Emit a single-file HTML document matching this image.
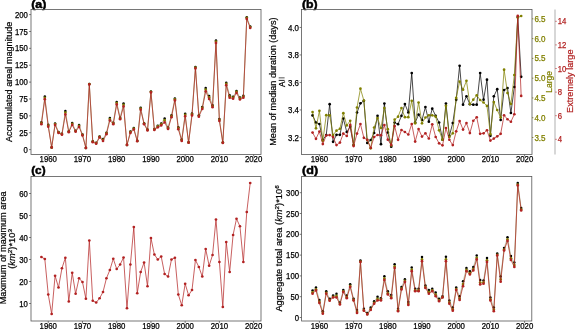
<!DOCTYPE html>
<html><head><meta charset="utf-8"><style>
html,body{margin:0;padding:0;background:#fff;width:575px;height:329px;overflow:hidden}
</style></head><body>
<svg width="575" height="329" viewBox="0 0 575 329" style="display:block;will-change:transform">
<rect width="575" height="329" fill="#fff"/>
<g font-family='"Liberation Sans", sans-serif'>
<text x="31.2" y="7.6" font-size="10.4" text-anchor="start" fill="#000" font-weight="bold" textLength="15.2" lengthAdjust="spacingAndGlyphs" style="stroke:#000;stroke-width:0.45px">(a)</text>
<text x="302.0" y="7.6" font-size="10.4" text-anchor="start" fill="#000" font-weight="bold" textLength="15.7" lengthAdjust="spacingAndGlyphs" style="stroke:#000;stroke-width:0.45px">(b)</text>
<text x="31.2" y="174.3" font-size="10.4" text-anchor="start" fill="#000" font-weight="bold" textLength="14.4" lengthAdjust="spacingAndGlyphs" style="stroke:#000;stroke-width:0.45px">(c)</text>
<text x="302.0" y="174.3" font-size="10.4" text-anchor="start" fill="#000" font-weight="bold" textLength="16.1" lengthAdjust="spacingAndGlyphs" style="stroke:#000;stroke-width:0.45px">(d)</text>
<line x1="29.10" y1="149.60" x2="31.0" y2="149.60" stroke="#555" stroke-width="0.8"/>
<text x="27.8" y="152.70" font-size="8.4" text-anchor="end" fill="#000" textLength="4.30" lengthAdjust="spacingAndGlyphs" style="stroke:#000;stroke-width:0.25px">0</text>
<line x1="29.10" y1="132.72" x2="31.0" y2="132.72" stroke="#555" stroke-width="0.8"/>
<text x="27.8" y="135.82" font-size="8.4" text-anchor="end" fill="#000" textLength="8.60" lengthAdjust="spacingAndGlyphs" style="stroke:#000;stroke-width:0.25px">25</text>
<line x1="29.10" y1="115.85" x2="31.0" y2="115.85" stroke="#555" stroke-width="0.8"/>
<text x="27.8" y="118.95" font-size="8.4" text-anchor="end" fill="#000" textLength="8.60" lengthAdjust="spacingAndGlyphs" style="stroke:#000;stroke-width:0.25px">50</text>
<line x1="29.10" y1="98.97" x2="31.0" y2="98.97" stroke="#555" stroke-width="0.8"/>
<text x="27.8" y="102.07" font-size="8.4" text-anchor="end" fill="#000" textLength="8.60" lengthAdjust="spacingAndGlyphs" style="stroke:#000;stroke-width:0.25px">75</text>
<line x1="29.10" y1="82.10" x2="31.0" y2="82.10" stroke="#555" stroke-width="0.8"/>
<text x="27.8" y="85.20" font-size="8.4" text-anchor="end" fill="#000" textLength="12.90" lengthAdjust="spacingAndGlyphs" style="stroke:#000;stroke-width:0.25px">100</text>
<line x1="29.10" y1="65.22" x2="31.0" y2="65.22" stroke="#555" stroke-width="0.8"/>
<text x="27.8" y="68.32" font-size="8.4" text-anchor="end" fill="#000" textLength="12.90" lengthAdjust="spacingAndGlyphs" style="stroke:#000;stroke-width:0.25px">125</text>
<line x1="29.10" y1="48.35" x2="31.0" y2="48.35" stroke="#555" stroke-width="0.8"/>
<text x="27.8" y="51.45" font-size="8.4" text-anchor="end" fill="#000" textLength="12.90" lengthAdjust="spacingAndGlyphs" style="stroke:#000;stroke-width:0.25px">150</text>
<line x1="29.10" y1="31.47" x2="31.0" y2="31.47" stroke="#555" stroke-width="0.8"/>
<text x="27.8" y="34.57" font-size="8.4" text-anchor="end" fill="#000" textLength="12.90" lengthAdjust="spacingAndGlyphs" style="stroke:#000;stroke-width:0.25px">175</text>
<line x1="29.10" y1="14.60" x2="31.0" y2="14.60" stroke="#555" stroke-width="0.8"/>
<text x="27.8" y="17.70" font-size="8.4" text-anchor="end" fill="#000" textLength="12.90" lengthAdjust="spacingAndGlyphs" style="stroke:#000;stroke-width:0.25px">200</text>
<line x1="48.25" y1="154.5" x2="48.25" y2="156.40" stroke="#555" stroke-width="0.8"/>
<text x="48.25" y="162.2" font-size="8.4" text-anchor="middle" fill="#000" textLength="17.4" lengthAdjust="spacingAndGlyphs" style="stroke:#000;stroke-width:0.25px">1960</text>
<line x1="82.48" y1="154.5" x2="82.48" y2="156.40" stroke="#555" stroke-width="0.8"/>
<text x="82.48" y="162.2" font-size="8.4" text-anchor="middle" fill="#000" textLength="17.4" lengthAdjust="spacingAndGlyphs" style="stroke:#000;stroke-width:0.25px">1970</text>
<line x1="116.71" y1="154.5" x2="116.71" y2="156.40" stroke="#555" stroke-width="0.8"/>
<text x="116.71" y="162.2" font-size="8.4" text-anchor="middle" fill="#000" textLength="17.4" lengthAdjust="spacingAndGlyphs" style="stroke:#000;stroke-width:0.25px">1980</text>
<line x1="150.94" y1="154.5" x2="150.94" y2="156.40" stroke="#555" stroke-width="0.8"/>
<text x="150.94" y="162.2" font-size="8.4" text-anchor="middle" fill="#000" textLength="17.4" lengthAdjust="spacingAndGlyphs" style="stroke:#000;stroke-width:0.25px">1990</text>
<line x1="185.17" y1="154.5" x2="185.17" y2="156.40" stroke="#555" stroke-width="0.8"/>
<text x="185.17" y="162.2" font-size="8.4" text-anchor="middle" fill="#000" textLength="17.4" lengthAdjust="spacingAndGlyphs" style="stroke:#000;stroke-width:0.25px">2000</text>
<line x1="219.40" y1="154.5" x2="219.40" y2="156.40" stroke="#555" stroke-width="0.8"/>
<text x="219.40" y="162.2" font-size="8.4" text-anchor="middle" fill="#000" textLength="17.4" lengthAdjust="spacingAndGlyphs" style="stroke:#000;stroke-width:0.25px">2010</text>
<line x1="253.63" y1="154.5" x2="253.63" y2="156.40" stroke="#555" stroke-width="0.8"/>
<text x="253.63" y="162.2" font-size="8.4" text-anchor="middle" fill="#000" textLength="17.4" lengthAdjust="spacingAndGlyphs" style="stroke:#000;stroke-width:0.25px">2020</text>
<text x="11.6" y="81.8" font-size="8.2" text-anchor="middle" fill="#000" textLength="120.3" lengthAdjust="spacingAndGlyphs" transform="rotate(-90 11.6 81.8)" style="stroke:#000;stroke-width:0.2px">Accumulated areal magnitude</text>
<line x1="299.60" y1="137.45" x2="301.5" y2="137.45" stroke="#555" stroke-width="0.8"/>
<text x="299.0" y="140.55" font-size="8.4" text-anchor="end" fill="#000" textLength="11.00" lengthAdjust="spacingAndGlyphs" style="stroke:#000;stroke-width:0.25px">3.2</text>
<line x1="299.60" y1="109.95" x2="301.5" y2="109.95" stroke="#555" stroke-width="0.8"/>
<text x="299.0" y="113.05" font-size="8.4" text-anchor="end" fill="#000" textLength="11.00" lengthAdjust="spacingAndGlyphs" style="stroke:#000;stroke-width:0.25px">3.4</text>
<line x1="299.60" y1="82.45" x2="301.5" y2="82.45" stroke="#555" stroke-width="0.8"/>
<text x="299.0" y="85.55" font-size="8.4" text-anchor="end" fill="#000" textLength="11.00" lengthAdjust="spacingAndGlyphs" style="stroke:#000;stroke-width:0.25px">3.6</text>
<line x1="299.60" y1="54.95" x2="301.5" y2="54.95" stroke="#555" stroke-width="0.8"/>
<text x="299.0" y="58.05" font-size="8.4" text-anchor="end" fill="#000" textLength="11.00" lengthAdjust="spacingAndGlyphs" style="stroke:#000;stroke-width:0.25px">3.8</text>
<line x1="299.60" y1="27.45" x2="301.5" y2="27.45" stroke="#555" stroke-width="0.8"/>
<text x="299.0" y="30.55" font-size="8.4" text-anchor="end" fill="#000" textLength="11.00" lengthAdjust="spacingAndGlyphs" style="stroke:#000;stroke-width:0.25px">4.0</text>
<line x1="319.40" y1="154.5" x2="319.40" y2="156.40" stroke="#555" stroke-width="0.8"/>
<text x="319.40" y="162.2" font-size="8.4" text-anchor="middle" fill="#000" textLength="17.4" lengthAdjust="spacingAndGlyphs" style="stroke:#000;stroke-width:0.25px">1960</text>
<line x1="353.60" y1="154.5" x2="353.60" y2="156.40" stroke="#555" stroke-width="0.8"/>
<text x="353.60" y="162.2" font-size="8.4" text-anchor="middle" fill="#000" textLength="17.4" lengthAdjust="spacingAndGlyphs" style="stroke:#000;stroke-width:0.25px">1970</text>
<line x1="387.80" y1="154.5" x2="387.80" y2="156.40" stroke="#555" stroke-width="0.8"/>
<text x="387.80" y="162.2" font-size="8.4" text-anchor="middle" fill="#000" textLength="17.4" lengthAdjust="spacingAndGlyphs" style="stroke:#000;stroke-width:0.25px">1980</text>
<line x1="422.00" y1="154.5" x2="422.00" y2="156.40" stroke="#555" stroke-width="0.8"/>
<text x="422.00" y="162.2" font-size="8.4" text-anchor="middle" fill="#000" textLength="17.4" lengthAdjust="spacingAndGlyphs" style="stroke:#000;stroke-width:0.25px">1990</text>
<line x1="456.20" y1="154.5" x2="456.20" y2="156.40" stroke="#555" stroke-width="0.8"/>
<text x="456.20" y="162.2" font-size="8.4" text-anchor="middle" fill="#000" textLength="17.4" lengthAdjust="spacingAndGlyphs" style="stroke:#000;stroke-width:0.25px">2000</text>
<line x1="490.40" y1="154.5" x2="490.40" y2="156.40" stroke="#555" stroke-width="0.8"/>
<text x="490.40" y="162.2" font-size="8.4" text-anchor="middle" fill="#000" textLength="17.4" lengthAdjust="spacingAndGlyphs" style="stroke:#000;stroke-width:0.25px">2010</text>
<line x1="524.60" y1="154.5" x2="524.60" y2="156.40" stroke="#555" stroke-width="0.8"/>
<text x="524.60" y="162.2" font-size="8.4" text-anchor="middle" fill="#000" textLength="17.4" lengthAdjust="spacingAndGlyphs" style="stroke:#000;stroke-width:0.25px">2020</text>
<text x="275.8" y="81.6" font-size="8.2" text-anchor="middle" fill="#000" textLength="128.2" lengthAdjust="spacingAndGlyphs" transform="rotate(-90 275.8 81.6)" style="stroke:#000;stroke-width:0.2px">Mean of median duration (days)</text>
<text x="284.9" y="87.1" font-size="8.2" text-anchor="start" fill="#000" transform="rotate(-90 284.9 87.1)" style="stroke:#000;stroke-width:0.2px">A</text>
<rect x="278.7" y="77.45" width="5.9" height="0.85" fill="#000" opacity="0.8"/>
<rect x="278.7" y="79.9" width="5.9" height="0.85" fill="#000"/>
<line x1="532.0" y1="137.50" x2="533.40" y2="137.50" stroke="#808000" stroke-width="0.8"/>
<text x="534.4" y="140.60" font-size="8.4" text-anchor="start" fill="#808000" textLength="11.2" lengthAdjust="spacingAndGlyphs" style="stroke:#808000;stroke-width:0.25px">3.5</text>
<line x1="532.0" y1="117.72" x2="533.40" y2="117.72" stroke="#808000" stroke-width="0.8"/>
<text x="534.4" y="120.82" font-size="8.4" text-anchor="start" fill="#808000" textLength="11.2" lengthAdjust="spacingAndGlyphs" style="stroke:#808000;stroke-width:0.25px">4.0</text>
<line x1="532.0" y1="97.94" x2="533.40" y2="97.94" stroke="#808000" stroke-width="0.8"/>
<text x="534.4" y="101.04" font-size="8.4" text-anchor="start" fill="#808000" textLength="11.2" lengthAdjust="spacingAndGlyphs" style="stroke:#808000;stroke-width:0.25px">4.5</text>
<line x1="532.0" y1="78.16" x2="533.40" y2="78.16" stroke="#808000" stroke-width="0.8"/>
<text x="534.4" y="81.26" font-size="8.4" text-anchor="start" fill="#808000" textLength="11.2" lengthAdjust="spacingAndGlyphs" style="stroke:#808000;stroke-width:0.25px">5.0</text>
<line x1="532.0" y1="58.38" x2="533.40" y2="58.38" stroke="#808000" stroke-width="0.8"/>
<text x="534.4" y="61.48" font-size="8.4" text-anchor="start" fill="#808000" textLength="11.2" lengthAdjust="spacingAndGlyphs" style="stroke:#808000;stroke-width:0.25px">5.5</text>
<line x1="532.0" y1="38.60" x2="533.40" y2="38.60" stroke="#808000" stroke-width="0.8"/>
<text x="534.4" y="41.70" font-size="8.4" text-anchor="start" fill="#808000" textLength="11.2" lengthAdjust="spacingAndGlyphs" style="stroke:#808000;stroke-width:0.25px">6.0</text>
<line x1="532.0" y1="18.82" x2="533.40" y2="18.82" stroke="#808000" stroke-width="0.8"/>
<text x="534.4" y="21.92" font-size="8.4" text-anchor="start" fill="#808000" textLength="11.2" lengthAdjust="spacingAndGlyphs" style="stroke:#808000;stroke-width:0.25px">6.5</text>
<text x="551.9" y="81.8" font-size="8.2" text-anchor="middle" fill="#808000" textLength="21.9" lengthAdjust="spacingAndGlyphs" transform="rotate(-90 551.9 81.8)" style="stroke:#808000;stroke-width:0.2px">Large</text>
<line x1="555.0" y1="9.5" x2="555.0" y2="154.5" stroke="#bdbdbd" stroke-width="1.2"/>
<line x1="555.4" y1="139.30" x2="556.6" y2="139.30" stroke="#b22222" stroke-width="0.8"/>
<text x="557.8" y="142.40" font-size="8.4" text-anchor="start" fill="#b22222" textLength="4.3" lengthAdjust="spacingAndGlyphs" style="stroke:#b22222;stroke-width:0.25px">4</text>
<line x1="555.4" y1="115.70" x2="556.6" y2="115.70" stroke="#b22222" stroke-width="0.8"/>
<text x="557.8" y="118.80" font-size="8.4" text-anchor="start" fill="#b22222" textLength="4.3" lengthAdjust="spacingAndGlyphs" style="stroke:#b22222;stroke-width:0.25px">6</text>
<line x1="555.4" y1="92.10" x2="556.6" y2="92.10" stroke="#b22222" stroke-width="0.8"/>
<text x="557.8" y="95.20" font-size="8.4" text-anchor="start" fill="#b22222" textLength="4.3" lengthAdjust="spacingAndGlyphs" style="stroke:#b22222;stroke-width:0.25px">8</text>
<line x1="555.4" y1="68.50" x2="556.6" y2="68.50" stroke="#b22222" stroke-width="0.8"/>
<text x="557.8" y="71.60" font-size="8.4" text-anchor="start" fill="#b22222" textLength="8.6" lengthAdjust="spacingAndGlyphs" style="stroke:#b22222;stroke-width:0.25px">10</text>
<line x1="555.4" y1="44.90" x2="556.6" y2="44.90" stroke="#b22222" stroke-width="0.8"/>
<text x="557.8" y="48.00" font-size="8.4" text-anchor="start" fill="#b22222" textLength="8.6" lengthAdjust="spacingAndGlyphs" style="stroke:#b22222;stroke-width:0.25px">12</text>
<line x1="555.4" y1="21.30" x2="556.6" y2="21.30" stroke="#b22222" stroke-width="0.8"/>
<text x="557.8" y="24.40" font-size="8.4" text-anchor="start" fill="#b22222" textLength="8.6" lengthAdjust="spacingAndGlyphs" style="stroke:#b22222;stroke-width:0.25px">14</text>
<text x="573.2" y="81.2" font-size="8.2" text-anchor="middle" fill="#b22222" textLength="63.4" lengthAdjust="spacingAndGlyphs" transform="rotate(-90 573.2 81.2)" style="stroke:#b22222;stroke-width:0.2px">Extremely large</text>
<line x1="29.10" y1="303.50" x2="31.0" y2="303.50" stroke="#555" stroke-width="0.8"/>
<text x="27.8" y="306.60" font-size="8.4" text-anchor="end" fill="#000" textLength="8.60" lengthAdjust="spacingAndGlyphs" style="stroke:#000;stroke-width:0.25px">10</text>
<line x1="29.10" y1="281.50" x2="31.0" y2="281.50" stroke="#555" stroke-width="0.8"/>
<text x="27.8" y="284.60" font-size="8.4" text-anchor="end" fill="#000" textLength="8.60" lengthAdjust="spacingAndGlyphs" style="stroke:#000;stroke-width:0.25px">20</text>
<line x1="29.10" y1="259.50" x2="31.0" y2="259.50" stroke="#555" stroke-width="0.8"/>
<text x="27.8" y="262.60" font-size="8.4" text-anchor="end" fill="#000" textLength="8.60" lengthAdjust="spacingAndGlyphs" style="stroke:#000;stroke-width:0.25px">30</text>
<line x1="29.10" y1="237.50" x2="31.0" y2="237.50" stroke="#555" stroke-width="0.8"/>
<text x="27.8" y="240.60" font-size="8.4" text-anchor="end" fill="#000" textLength="8.60" lengthAdjust="spacingAndGlyphs" style="stroke:#000;stroke-width:0.25px">40</text>
<line x1="29.10" y1="215.50" x2="31.0" y2="215.50" stroke="#555" stroke-width="0.8"/>
<text x="27.8" y="218.60" font-size="8.4" text-anchor="end" fill="#000" textLength="8.60" lengthAdjust="spacingAndGlyphs" style="stroke:#000;stroke-width:0.25px">50</text>
<line x1="29.10" y1="193.50" x2="31.0" y2="193.50" stroke="#555" stroke-width="0.8"/>
<text x="27.8" y="196.60" font-size="8.4" text-anchor="end" fill="#000" textLength="8.60" lengthAdjust="spacingAndGlyphs" style="stroke:#000;stroke-width:0.25px">60</text>
<line x1="48.25" y1="321.0" x2="48.25" y2="322.90" stroke="#555" stroke-width="0.8"/>
<text x="48.25" y="328.7" font-size="8.4" text-anchor="middle" fill="#000" textLength="17.4" lengthAdjust="spacingAndGlyphs" style="stroke:#000;stroke-width:0.25px">1960</text>
<line x1="82.48" y1="321.0" x2="82.48" y2="322.90" stroke="#555" stroke-width="0.8"/>
<text x="82.48" y="328.7" font-size="8.4" text-anchor="middle" fill="#000" textLength="17.4" lengthAdjust="spacingAndGlyphs" style="stroke:#000;stroke-width:0.25px">1970</text>
<line x1="116.71" y1="321.0" x2="116.71" y2="322.90" stroke="#555" stroke-width="0.8"/>
<text x="116.71" y="328.7" font-size="8.4" text-anchor="middle" fill="#000" textLength="17.4" lengthAdjust="spacingAndGlyphs" style="stroke:#000;stroke-width:0.25px">1980</text>
<line x1="150.94" y1="321.0" x2="150.94" y2="322.90" stroke="#555" stroke-width="0.8"/>
<text x="150.94" y="328.7" font-size="8.4" text-anchor="middle" fill="#000" textLength="17.4" lengthAdjust="spacingAndGlyphs" style="stroke:#000;stroke-width:0.25px">1990</text>
<line x1="185.17" y1="321.0" x2="185.17" y2="322.90" stroke="#555" stroke-width="0.8"/>
<text x="185.17" y="328.7" font-size="8.4" text-anchor="middle" fill="#000" textLength="17.4" lengthAdjust="spacingAndGlyphs" style="stroke:#000;stroke-width:0.25px">2000</text>
<line x1="219.40" y1="321.0" x2="219.40" y2="322.90" stroke="#555" stroke-width="0.8"/>
<text x="219.40" y="328.7" font-size="8.4" text-anchor="middle" fill="#000" textLength="17.4" lengthAdjust="spacingAndGlyphs" style="stroke:#000;stroke-width:0.25px">2010</text>
<line x1="253.63" y1="321.0" x2="253.63" y2="322.90" stroke="#555" stroke-width="0.8"/>
<text x="253.63" y="328.7" font-size="8.4" text-anchor="middle" fill="#000" textLength="17.4" lengthAdjust="spacingAndGlyphs" style="stroke:#000;stroke-width:0.25px">2020</text>
<text x="6.1" y="247.85" font-size="8.2" text-anchor="middle" fill="#000" textLength="112.9" lengthAdjust="spacingAndGlyphs" transform="rotate(-90 6.1 247.85)" style="stroke:#000;stroke-width:0.2px">Maximum of maximum area</text>
<text x="15.0" y="248.9" font-size="8.2" text-anchor="middle" fill="#000" textLength="39.7" lengthAdjust="spacingAndGlyphs" transform="rotate(-90 15.0 248.9)" style="stroke:#000;stroke-width:0.2px">(<tspan font-style="italic">km</tspan><tspan dy="-3" font-size="5.6">2</tspan><tspan dy="3">)*10</tspan><tspan dy="-3" font-size="5.6">3</tspan></text>
<line x1="299.70" y1="317.50" x2="301.6" y2="317.50" stroke="#555" stroke-width="0.8"/>
<text x="299.0" y="320.60" font-size="8.4" text-anchor="end" fill="#000" textLength="4.30" lengthAdjust="spacingAndGlyphs" style="stroke:#000;stroke-width:0.25px">0</text>
<line x1="299.70" y1="296.70" x2="301.6" y2="296.70" stroke="#555" stroke-width="0.8"/>
<text x="299.0" y="299.80" font-size="8.4" text-anchor="end" fill="#000" textLength="8.60" lengthAdjust="spacingAndGlyphs" style="stroke:#000;stroke-width:0.25px">50</text>
<line x1="299.70" y1="275.90" x2="301.6" y2="275.90" stroke="#555" stroke-width="0.8"/>
<text x="299.0" y="279.00" font-size="8.4" text-anchor="end" fill="#000" textLength="12.90" lengthAdjust="spacingAndGlyphs" style="stroke:#000;stroke-width:0.25px">100</text>
<line x1="299.70" y1="255.10" x2="301.6" y2="255.10" stroke="#555" stroke-width="0.8"/>
<text x="299.0" y="258.20" font-size="8.4" text-anchor="end" fill="#000" textLength="12.90" lengthAdjust="spacingAndGlyphs" style="stroke:#000;stroke-width:0.25px">150</text>
<line x1="299.70" y1="234.30" x2="301.6" y2="234.30" stroke="#555" stroke-width="0.8"/>
<text x="299.0" y="237.40" font-size="8.4" text-anchor="end" fill="#000" textLength="12.90" lengthAdjust="spacingAndGlyphs" style="stroke:#000;stroke-width:0.25px">200</text>
<line x1="299.70" y1="213.50" x2="301.6" y2="213.50" stroke="#555" stroke-width="0.8"/>
<text x="299.0" y="216.60" font-size="8.4" text-anchor="end" fill="#000" textLength="12.90" lengthAdjust="spacingAndGlyphs" style="stroke:#000;stroke-width:0.25px">250</text>
<line x1="299.70" y1="192.70" x2="301.6" y2="192.70" stroke="#555" stroke-width="0.8"/>
<text x="299.0" y="195.80" font-size="8.4" text-anchor="end" fill="#000" textLength="12.90" lengthAdjust="spacingAndGlyphs" style="stroke:#000;stroke-width:0.25px">300</text>
<line x1="319.40" y1="321.0" x2="319.40" y2="322.90" stroke="#555" stroke-width="0.8"/>
<text x="319.40" y="328.7" font-size="8.4" text-anchor="middle" fill="#000" textLength="17.4" lengthAdjust="spacingAndGlyphs" style="stroke:#000;stroke-width:0.25px">1960</text>
<line x1="353.60" y1="321.0" x2="353.60" y2="322.90" stroke="#555" stroke-width="0.8"/>
<text x="353.60" y="328.7" font-size="8.4" text-anchor="middle" fill="#000" textLength="17.4" lengthAdjust="spacingAndGlyphs" style="stroke:#000;stroke-width:0.25px">1970</text>
<line x1="387.80" y1="321.0" x2="387.80" y2="322.90" stroke="#555" stroke-width="0.8"/>
<text x="387.80" y="328.7" font-size="8.4" text-anchor="middle" fill="#000" textLength="17.4" lengthAdjust="spacingAndGlyphs" style="stroke:#000;stroke-width:0.25px">1980</text>
<line x1="422.00" y1="321.0" x2="422.00" y2="322.90" stroke="#555" stroke-width="0.8"/>
<text x="422.00" y="328.7" font-size="8.4" text-anchor="middle" fill="#000" textLength="17.4" lengthAdjust="spacingAndGlyphs" style="stroke:#000;stroke-width:0.25px">1990</text>
<line x1="456.20" y1="321.0" x2="456.20" y2="322.90" stroke="#555" stroke-width="0.8"/>
<text x="456.20" y="328.7" font-size="8.4" text-anchor="middle" fill="#000" textLength="17.4" lengthAdjust="spacingAndGlyphs" style="stroke:#000;stroke-width:0.25px">2000</text>
<line x1="490.40" y1="321.0" x2="490.40" y2="322.90" stroke="#555" stroke-width="0.8"/>
<text x="490.40" y="328.7" font-size="8.4" text-anchor="middle" fill="#000" textLength="17.4" lengthAdjust="spacingAndGlyphs" style="stroke:#000;stroke-width:0.25px">2010</text>
<line x1="524.60" y1="321.0" x2="524.60" y2="322.90" stroke="#555" stroke-width="0.8"/>
<text x="524.60" y="328.7" font-size="8.4" text-anchor="middle" fill="#000" textLength="17.4" lengthAdjust="spacingAndGlyphs" style="stroke:#000;stroke-width:0.25px">2020</text>
<text x="281.6" y="248.45" font-size="8.2" text-anchor="middle" fill="#000" textLength="126.3" lengthAdjust="spacingAndGlyphs" transform="rotate(-90 281.6 248.45)" style="stroke:#000;stroke-width:0.2px">Aggregate total area (<tspan font-style="italic">km</tspan><tspan dy="-3" font-size="5.6">2</tspan><tspan dy="3">)*10</tspan><tspan dy="-3" font-size="5.6">6</tspan></text>
<polyline points="41.40,122.20 44.82,96.60 48.25,124.65 51.67,147.40 55.09,123.40 58.52,131.90 61.94,133.65 65.36,110.90 68.78,131.15 72.21,122.90 75.63,130.65 79.05,124.90 82.48,134.40 85.90,147.90 89.32,83.90 92.75,141.15 96.17,142.65 99.59,136.40 103.01,138.90 106.44,132.65 109.86,117.90 113.28,122.65 116.71,101.90 120.13,117.65 123.55,103.40 126.97,144.90 130.40,131.40 133.82,127.90 137.24,140.65 140.67,107.65 144.09,123.15 147.51,129.40 150.94,91.40 154.36,128.90 157.78,125.80 161.21,123.40 164.63,118.40 168.05,127.50 171.47,115.15 174.90,98.40 178.32,127.15 181.74,139.40 185.17,113.70 188.59,142.15 192.01,113.40 195.44,66.90 198.86,115.15 202.28,106.90 205.70,87.90 209.13,95.90 212.55,105.15 215.97,40.40 219.40,118.90 222.82,142.40 226.24,82.65 229.67,95.20 233.09,96.70 236.51,90.90 239.93,97.50 243.36,95.70 246.78,17.15 250.20,26.40" fill="none" stroke="#000000" stroke-width="0.2" stroke-linejoin="round" opacity="1.0"/>
<circle cx="41.40" cy="122.20" r="1.25" fill="#000000"/>
<circle cx="44.82" cy="96.60" r="1.25" fill="#000000"/>
<circle cx="48.25" cy="124.65" r="1.25" fill="#000000"/>
<circle cx="51.67" cy="147.40" r="1.25" fill="#000000"/>
<circle cx="55.09" cy="123.40" r="1.25" fill="#000000"/>
<circle cx="58.52" cy="131.90" r="1.25" fill="#000000"/>
<circle cx="61.94" cy="133.65" r="1.25" fill="#000000"/>
<circle cx="65.36" cy="110.90" r="1.25" fill="#000000"/>
<circle cx="68.78" cy="131.15" r="1.25" fill="#000000"/>
<circle cx="72.21" cy="122.90" r="1.25" fill="#000000"/>
<circle cx="75.63" cy="130.65" r="1.25" fill="#000000"/>
<circle cx="79.05" cy="124.90" r="1.25" fill="#000000"/>
<circle cx="82.48" cy="134.40" r="1.25" fill="#000000"/>
<circle cx="85.90" cy="147.90" r="1.25" fill="#000000"/>
<circle cx="89.32" cy="83.90" r="1.25" fill="#000000"/>
<circle cx="92.75" cy="141.15" r="1.25" fill="#000000"/>
<circle cx="96.17" cy="142.65" r="1.25" fill="#000000"/>
<circle cx="99.59" cy="136.40" r="1.25" fill="#000000"/>
<circle cx="103.01" cy="138.90" r="1.25" fill="#000000"/>
<circle cx="106.44" cy="132.65" r="1.25" fill="#000000"/>
<circle cx="109.86" cy="117.90" r="1.25" fill="#000000"/>
<circle cx="113.28" cy="122.65" r="1.25" fill="#000000"/>
<circle cx="116.71" cy="101.90" r="1.25" fill="#000000"/>
<circle cx="120.13" cy="117.65" r="1.25" fill="#000000"/>
<circle cx="123.55" cy="103.40" r="1.25" fill="#000000"/>
<circle cx="126.97" cy="144.90" r="1.25" fill="#000000"/>
<circle cx="130.40" cy="131.40" r="1.25" fill="#000000"/>
<circle cx="133.82" cy="127.90" r="1.25" fill="#000000"/>
<circle cx="137.24" cy="140.65" r="1.25" fill="#000000"/>
<circle cx="140.67" cy="107.65" r="1.25" fill="#000000"/>
<circle cx="144.09" cy="123.15" r="1.25" fill="#000000"/>
<circle cx="147.51" cy="129.40" r="1.25" fill="#000000"/>
<circle cx="150.94" cy="91.40" r="1.25" fill="#000000"/>
<circle cx="154.36" cy="128.90" r="1.25" fill="#000000"/>
<circle cx="157.78" cy="125.80" r="1.25" fill="#000000"/>
<circle cx="161.21" cy="123.40" r="1.25" fill="#000000"/>
<circle cx="164.63" cy="118.40" r="1.25" fill="#000000"/>
<circle cx="168.05" cy="127.50" r="1.25" fill="#000000"/>
<circle cx="171.47" cy="115.15" r="1.25" fill="#000000"/>
<circle cx="174.90" cy="98.40" r="1.25" fill="#000000"/>
<circle cx="178.32" cy="127.15" r="1.25" fill="#000000"/>
<circle cx="181.74" cy="139.40" r="1.25" fill="#000000"/>
<circle cx="185.17" cy="113.70" r="1.25" fill="#000000"/>
<circle cx="188.59" cy="142.15" r="1.25" fill="#000000"/>
<circle cx="192.01" cy="113.40" r="1.25" fill="#000000"/>
<circle cx="195.44" cy="66.90" r="1.25" fill="#000000"/>
<circle cx="198.86" cy="115.15" r="1.25" fill="#000000"/>
<circle cx="202.28" cy="106.90" r="1.25" fill="#000000"/>
<circle cx="205.70" cy="87.90" r="1.25" fill="#000000"/>
<circle cx="209.13" cy="95.90" r="1.25" fill="#000000"/>
<circle cx="212.55" cy="105.15" r="1.25" fill="#000000"/>
<circle cx="215.97" cy="40.40" r="1.25" fill="#000000"/>
<circle cx="219.40" cy="118.90" r="1.25" fill="#000000"/>
<circle cx="222.82" cy="142.40" r="1.25" fill="#000000"/>
<circle cx="226.24" cy="82.65" r="1.25" fill="#000000"/>
<circle cx="229.67" cy="95.20" r="1.25" fill="#000000"/>
<circle cx="233.09" cy="96.70" r="1.25" fill="#000000"/>
<circle cx="236.51" cy="90.90" r="1.25" fill="#000000"/>
<circle cx="239.93" cy="97.50" r="1.25" fill="#000000"/>
<circle cx="243.36" cy="95.70" r="1.25" fill="#000000"/>
<circle cx="246.78" cy="17.15" r="1.25" fill="#000000"/>
<circle cx="250.20" cy="26.40" r="1.25" fill="#000000"/>
<polyline points="41.40,123.10 44.82,97.77 48.25,125.55 51.67,147.40 55.09,124.08 58.52,132.35 61.94,134.10 65.36,112.48 68.78,131.60 72.21,123.80 75.63,131.10 79.05,125.80 82.48,134.85 85.90,147.90 89.32,84.12 92.75,141.60 96.17,143.10 99.59,136.85 103.01,139.80 106.44,133.33 109.86,119.03 113.28,123.33 116.71,103.03 120.13,118.33 123.55,104.75 126.97,144.90 130.40,132.08 133.82,128.58 137.24,140.88 140.67,108.55 144.09,123.60 147.51,129.85 150.94,91.85 154.36,129.35 157.78,126.47 161.21,124.30 164.63,120.20 168.05,128.18 171.47,116.05 174.90,99.30 178.32,128.05 181.74,140.08 185.17,114.83 188.59,142.38 192.01,114.30 195.44,67.58 198.86,115.83 202.28,107.80 205.70,89.48 209.13,97.25 212.55,106.05 215.97,41.52 219.40,119.80 222.82,142.62 226.24,83.78 229.67,96.33 233.09,97.60 236.51,91.80 239.93,98.40 243.36,96.60 246.78,17.94 250.20,27.07" fill="none" stroke="#808000" stroke-width="0.4" stroke-linejoin="round" opacity="1.0"/>
<circle cx="41.40" cy="123.10" r="1.35" fill="#808000"/>
<circle cx="44.82" cy="97.77" r="1.35" fill="#808000"/>
<circle cx="48.25" cy="125.55" r="1.35" fill="#808000"/>
<circle cx="51.67" cy="147.40" r="1.35" fill="#808000"/>
<circle cx="55.09" cy="124.08" r="1.35" fill="#808000"/>
<circle cx="58.52" cy="132.35" r="1.35" fill="#808000"/>
<circle cx="61.94" cy="134.10" r="1.35" fill="#808000"/>
<circle cx="65.36" cy="112.48" r="1.35" fill="#808000"/>
<circle cx="68.78" cy="131.60" r="1.35" fill="#808000"/>
<circle cx="72.21" cy="123.80" r="1.35" fill="#808000"/>
<circle cx="75.63" cy="131.10" r="1.35" fill="#808000"/>
<circle cx="79.05" cy="125.80" r="1.35" fill="#808000"/>
<circle cx="82.48" cy="134.85" r="1.35" fill="#808000"/>
<circle cx="85.90" cy="147.90" r="1.35" fill="#808000"/>
<circle cx="89.32" cy="84.12" r="1.35" fill="#808000"/>
<circle cx="92.75" cy="141.60" r="1.35" fill="#808000"/>
<circle cx="96.17" cy="143.10" r="1.35" fill="#808000"/>
<circle cx="99.59" cy="136.85" r="1.35" fill="#808000"/>
<circle cx="103.01" cy="139.80" r="1.35" fill="#808000"/>
<circle cx="106.44" cy="133.33" r="1.35" fill="#808000"/>
<circle cx="109.86" cy="119.03" r="1.35" fill="#808000"/>
<circle cx="113.28" cy="123.33" r="1.35" fill="#808000"/>
<circle cx="116.71" cy="103.03" r="1.35" fill="#808000"/>
<circle cx="120.13" cy="118.33" r="1.35" fill="#808000"/>
<circle cx="123.55" cy="104.75" r="1.35" fill="#808000"/>
<circle cx="126.97" cy="144.90" r="1.35" fill="#808000"/>
<circle cx="130.40" cy="132.08" r="1.35" fill="#808000"/>
<circle cx="133.82" cy="128.58" r="1.35" fill="#808000"/>
<circle cx="137.24" cy="140.88" r="1.35" fill="#808000"/>
<circle cx="140.67" cy="108.55" r="1.35" fill="#808000"/>
<circle cx="144.09" cy="123.60" r="1.35" fill="#808000"/>
<circle cx="147.51" cy="129.85" r="1.35" fill="#808000"/>
<circle cx="150.94" cy="91.85" r="1.35" fill="#808000"/>
<circle cx="154.36" cy="129.35" r="1.35" fill="#808000"/>
<circle cx="157.78" cy="126.47" r="1.35" fill="#808000"/>
<circle cx="161.21" cy="124.30" r="1.35" fill="#808000"/>
<circle cx="164.63" cy="120.20" r="1.35" fill="#808000"/>
<circle cx="168.05" cy="128.18" r="1.35" fill="#808000"/>
<circle cx="171.47" cy="116.05" r="1.35" fill="#808000"/>
<circle cx="174.90" cy="99.30" r="1.35" fill="#808000"/>
<circle cx="178.32" cy="128.05" r="1.35" fill="#808000"/>
<circle cx="181.74" cy="140.08" r="1.35" fill="#808000"/>
<circle cx="185.17" cy="114.83" r="1.35" fill="#808000"/>
<circle cx="188.59" cy="142.38" r="1.35" fill="#808000"/>
<circle cx="192.01" cy="114.30" r="1.35" fill="#808000"/>
<circle cx="195.44" cy="67.58" r="1.35" fill="#808000"/>
<circle cx="198.86" cy="115.83" r="1.35" fill="#808000"/>
<circle cx="202.28" cy="107.80" r="1.35" fill="#808000"/>
<circle cx="205.70" cy="89.48" r="1.35" fill="#808000"/>
<circle cx="209.13" cy="97.25" r="1.35" fill="#808000"/>
<circle cx="212.55" cy="106.05" r="1.35" fill="#808000"/>
<circle cx="215.97" cy="41.52" r="1.35" fill="#808000"/>
<circle cx="219.40" cy="119.80" r="1.35" fill="#808000"/>
<circle cx="222.82" cy="142.62" r="1.35" fill="#808000"/>
<circle cx="226.24" cy="83.78" r="1.35" fill="#808000"/>
<circle cx="229.67" cy="96.33" r="1.35" fill="#808000"/>
<circle cx="233.09" cy="97.60" r="1.35" fill="#808000"/>
<circle cx="236.51" cy="91.80" r="1.35" fill="#808000"/>
<circle cx="239.93" cy="98.40" r="1.35" fill="#808000"/>
<circle cx="243.36" cy="96.60" r="1.35" fill="#808000"/>
<circle cx="246.78" cy="17.94" r="1.35" fill="#808000"/>
<circle cx="250.20" cy="27.07" r="1.35" fill="#808000"/>
<polyline points="41.40,124.20 44.82,99.20 48.25,126.65 51.67,147.40 55.09,124.90 58.52,132.90 61.94,134.65 65.36,114.40 68.78,132.15 72.21,124.90 75.63,131.65 79.05,126.90 82.48,135.40 85.90,147.90 89.32,84.40 92.75,142.15 96.17,143.65 99.59,137.40 103.01,140.90 106.44,134.15 109.86,120.40 113.28,124.15 116.71,104.40 120.13,119.15 123.55,106.40 126.97,144.90 130.40,132.90 133.82,129.40 137.24,141.15 140.67,109.65 144.09,124.15 147.51,130.40 150.94,92.40 154.36,129.90 157.78,127.30 161.21,125.40 164.63,122.40 168.05,129.00 171.47,117.15 174.90,100.40 178.32,129.15 181.74,140.90 185.17,116.20 188.59,142.65 192.01,115.40 195.44,68.40 198.86,116.65 202.28,108.90 205.70,91.40 209.13,98.90 212.55,107.15 215.97,42.90 219.40,120.90 222.82,142.90 226.24,85.15 229.67,97.70 233.09,98.70 236.51,92.90 239.93,99.50 243.36,97.70 246.78,18.90 250.20,27.90" fill="none" stroke="#b22222" stroke-width="0.7" stroke-linejoin="round" opacity="1.0"/>
<circle cx="41.40" cy="124.20" r="1.35" fill="#b22222"/>
<circle cx="44.82" cy="99.20" r="1.35" fill="#b22222"/>
<circle cx="48.25" cy="126.65" r="1.35" fill="#b22222"/>
<circle cx="51.67" cy="147.40" r="1.35" fill="#b22222"/>
<circle cx="55.09" cy="124.90" r="1.35" fill="#b22222"/>
<circle cx="58.52" cy="132.90" r="1.35" fill="#b22222"/>
<circle cx="61.94" cy="134.65" r="1.35" fill="#b22222"/>
<circle cx="65.36" cy="114.40" r="1.35" fill="#b22222"/>
<circle cx="68.78" cy="132.15" r="1.35" fill="#b22222"/>
<circle cx="72.21" cy="124.90" r="1.35" fill="#b22222"/>
<circle cx="75.63" cy="131.65" r="1.35" fill="#b22222"/>
<circle cx="79.05" cy="126.90" r="1.35" fill="#b22222"/>
<circle cx="82.48" cy="135.40" r="1.35" fill="#b22222"/>
<circle cx="85.90" cy="147.90" r="1.35" fill="#b22222"/>
<circle cx="89.32" cy="84.40" r="1.35" fill="#b22222"/>
<circle cx="92.75" cy="142.15" r="1.35" fill="#b22222"/>
<circle cx="96.17" cy="143.65" r="1.35" fill="#b22222"/>
<circle cx="99.59" cy="137.40" r="1.35" fill="#b22222"/>
<circle cx="103.01" cy="140.90" r="1.35" fill="#b22222"/>
<circle cx="106.44" cy="134.15" r="1.35" fill="#b22222"/>
<circle cx="109.86" cy="120.40" r="1.35" fill="#b22222"/>
<circle cx="113.28" cy="124.15" r="1.35" fill="#b22222"/>
<circle cx="116.71" cy="104.40" r="1.35" fill="#b22222"/>
<circle cx="120.13" cy="119.15" r="1.35" fill="#b22222"/>
<circle cx="123.55" cy="106.40" r="1.35" fill="#b22222"/>
<circle cx="126.97" cy="144.90" r="1.35" fill="#b22222"/>
<circle cx="130.40" cy="132.90" r="1.35" fill="#b22222"/>
<circle cx="133.82" cy="129.40" r="1.35" fill="#b22222"/>
<circle cx="137.24" cy="141.15" r="1.35" fill="#b22222"/>
<circle cx="140.67" cy="109.65" r="1.35" fill="#b22222"/>
<circle cx="144.09" cy="124.15" r="1.35" fill="#b22222"/>
<circle cx="147.51" cy="130.40" r="1.35" fill="#b22222"/>
<circle cx="150.94" cy="92.40" r="1.35" fill="#b22222"/>
<circle cx="154.36" cy="129.90" r="1.35" fill="#b22222"/>
<circle cx="157.78" cy="127.30" r="1.35" fill="#b22222"/>
<circle cx="161.21" cy="125.40" r="1.35" fill="#b22222"/>
<circle cx="164.63" cy="122.40" r="1.35" fill="#b22222"/>
<circle cx="168.05" cy="129.00" r="1.35" fill="#b22222"/>
<circle cx="171.47" cy="117.15" r="1.35" fill="#b22222"/>
<circle cx="174.90" cy="100.40" r="1.35" fill="#b22222"/>
<circle cx="178.32" cy="129.15" r="1.35" fill="#b22222"/>
<circle cx="181.74" cy="140.90" r="1.35" fill="#b22222"/>
<circle cx="185.17" cy="116.20" r="1.35" fill="#b22222"/>
<circle cx="188.59" cy="142.65" r="1.35" fill="#b22222"/>
<circle cx="192.01" cy="115.40" r="1.35" fill="#b22222"/>
<circle cx="195.44" cy="68.40" r="1.35" fill="#b22222"/>
<circle cx="198.86" cy="116.65" r="1.35" fill="#b22222"/>
<circle cx="202.28" cy="108.90" r="1.35" fill="#b22222"/>
<circle cx="205.70" cy="91.40" r="1.35" fill="#b22222"/>
<circle cx="209.13" cy="98.90" r="1.35" fill="#b22222"/>
<circle cx="212.55" cy="107.15" r="1.35" fill="#b22222"/>
<circle cx="215.97" cy="42.90" r="1.35" fill="#b22222"/>
<circle cx="219.40" cy="120.90" r="1.35" fill="#b22222"/>
<circle cx="222.82" cy="142.90" r="1.35" fill="#b22222"/>
<circle cx="226.24" cy="85.15" r="1.35" fill="#b22222"/>
<circle cx="229.67" cy="97.70" r="1.35" fill="#b22222"/>
<circle cx="233.09" cy="98.70" r="1.35" fill="#b22222"/>
<circle cx="236.51" cy="92.90" r="1.35" fill="#b22222"/>
<circle cx="239.93" cy="99.50" r="1.35" fill="#b22222"/>
<circle cx="243.36" cy="97.70" r="1.35" fill="#b22222"/>
<circle cx="246.78" cy="18.90" r="1.35" fill="#b22222"/>
<circle cx="250.20" cy="27.90" r="1.35" fill="#b22222"/>
<polyline points="312.56,115.40 315.98,122.50 319.40,124.00 322.82,140.00 326.24,135.00 329.66,104.20 333.08,141.80 336.50,134.80 339.92,134.80 343.34,118.50 346.76,132.00 350.18,126.70 353.60,145.00 357.02,112.50 360.44,103.30 363.86,100.80 367.28,143.00 370.70,140.00 374.12,133.00 377.54,115.80 380.96,144.20 384.38,103.50 387.80,132.50 391.22,146.70 394.64,122.50 398.06,124.20 401.48,115.80 404.90,104.00 408.32,112.50 411.74,73.00 415.16,122.50 418.58,114.70 422.00,120.00 425.42,107.00 428.84,121.70 432.26,108.70 435.68,115.80 439.10,122.50 442.52,139.70 445.94,103.50 449.36,135.80 452.78,123.00 456.20,99.80 459.62,65.80 463.04,104.70 466.46,96.30 469.88,104.20 473.30,104.70 476.72,104.70 480.14,73.00 483.56,99.70 486.98,79.70 490.40,135.80 493.82,96.30 497.24,89.20 500.66,120.00 504.08,90.00 507.50,88.00 510.92,113.00 514.34,87.00 517.76,17.00 521.18,76.80" fill="none" stroke="#000000" stroke-width="0.72" stroke-linejoin="round" opacity="1.0"/>
<circle cx="312.56" cy="115.40" r="1.35" fill="#000000"/>
<circle cx="315.98" cy="122.50" r="1.35" fill="#000000"/>
<circle cx="319.40" cy="124.00" r="1.35" fill="#000000"/>
<circle cx="322.82" cy="140.00" r="1.35" fill="#000000"/>
<circle cx="326.24" cy="135.00" r="1.35" fill="#000000"/>
<circle cx="329.66" cy="104.20" r="1.35" fill="#000000"/>
<circle cx="333.08" cy="141.80" r="1.35" fill="#000000"/>
<circle cx="336.50" cy="134.80" r="1.35" fill="#000000"/>
<circle cx="339.92" cy="134.80" r="1.35" fill="#000000"/>
<circle cx="343.34" cy="118.50" r="1.35" fill="#000000"/>
<circle cx="346.76" cy="132.00" r="1.35" fill="#000000"/>
<circle cx="350.18" cy="126.70" r="1.35" fill="#000000"/>
<circle cx="353.60" cy="145.00" r="1.35" fill="#000000"/>
<circle cx="357.02" cy="112.50" r="1.35" fill="#000000"/>
<circle cx="360.44" cy="103.30" r="1.35" fill="#000000"/>
<circle cx="363.86" cy="100.80" r="1.35" fill="#000000"/>
<circle cx="367.28" cy="143.00" r="1.35" fill="#000000"/>
<circle cx="370.70" cy="140.00" r="1.35" fill="#000000"/>
<circle cx="374.12" cy="133.00" r="1.35" fill="#000000"/>
<circle cx="377.54" cy="115.80" r="1.35" fill="#000000"/>
<circle cx="380.96" cy="144.20" r="1.35" fill="#000000"/>
<circle cx="384.38" cy="103.50" r="1.35" fill="#000000"/>
<circle cx="387.80" cy="132.50" r="1.35" fill="#000000"/>
<circle cx="391.22" cy="146.70" r="1.35" fill="#000000"/>
<circle cx="394.64" cy="122.50" r="1.35" fill="#000000"/>
<circle cx="398.06" cy="124.20" r="1.35" fill="#000000"/>
<circle cx="401.48" cy="115.80" r="1.35" fill="#000000"/>
<circle cx="404.90" cy="104.00" r="1.35" fill="#000000"/>
<circle cx="408.32" cy="112.50" r="1.35" fill="#000000"/>
<circle cx="411.74" cy="73.00" r="1.35" fill="#000000"/>
<circle cx="415.16" cy="122.50" r="1.35" fill="#000000"/>
<circle cx="418.58" cy="114.70" r="1.35" fill="#000000"/>
<circle cx="422.00" cy="120.00" r="1.35" fill="#000000"/>
<circle cx="425.42" cy="107.00" r="1.35" fill="#000000"/>
<circle cx="428.84" cy="121.70" r="1.35" fill="#000000"/>
<circle cx="432.26" cy="108.70" r="1.35" fill="#000000"/>
<circle cx="435.68" cy="115.80" r="1.35" fill="#000000"/>
<circle cx="439.10" cy="122.50" r="1.35" fill="#000000"/>
<circle cx="442.52" cy="139.70" r="1.35" fill="#000000"/>
<circle cx="445.94" cy="103.50" r="1.35" fill="#000000"/>
<circle cx="449.36" cy="135.80" r="1.35" fill="#000000"/>
<circle cx="452.78" cy="123.00" r="1.35" fill="#000000"/>
<circle cx="456.20" cy="99.80" r="1.35" fill="#000000"/>
<circle cx="459.62" cy="65.80" r="1.35" fill="#000000"/>
<circle cx="463.04" cy="104.70" r="1.35" fill="#000000"/>
<circle cx="466.46" cy="96.30" r="1.35" fill="#000000"/>
<circle cx="469.88" cy="104.20" r="1.35" fill="#000000"/>
<circle cx="473.30" cy="104.70" r="1.35" fill="#000000"/>
<circle cx="476.72" cy="104.70" r="1.35" fill="#000000"/>
<circle cx="480.14" cy="73.00" r="1.35" fill="#000000"/>
<circle cx="483.56" cy="99.70" r="1.35" fill="#000000"/>
<circle cx="486.98" cy="79.70" r="1.35" fill="#000000"/>
<circle cx="490.40" cy="135.80" r="1.35" fill="#000000"/>
<circle cx="493.82" cy="96.30" r="1.35" fill="#000000"/>
<circle cx="497.24" cy="89.20" r="1.35" fill="#000000"/>
<circle cx="500.66" cy="120.00" r="1.35" fill="#000000"/>
<circle cx="504.08" cy="90.00" r="1.35" fill="#000000"/>
<circle cx="507.50" cy="88.00" r="1.35" fill="#000000"/>
<circle cx="510.92" cy="113.00" r="1.35" fill="#000000"/>
<circle cx="514.34" cy="87.00" r="1.35" fill="#000000"/>
<circle cx="517.76" cy="17.00" r="1.35" fill="#000000"/>
<circle cx="521.18" cy="76.80" r="1.35" fill="#000000"/>
<polyline points="312.56,112.10 315.98,128.30 319.40,110.80 322.82,140.80 326.24,115.20 329.66,115.40 333.08,135.00 336.50,130.70 339.92,128.75 343.34,113.20 346.76,125.40 350.18,120.80 353.60,145.00 357.02,107.50 360.44,88.70 363.86,100.50 367.28,140.00 370.70,148.30 374.12,127.50 377.54,118.00 380.96,128.00 384.38,108.00 387.80,129.20 391.22,145.50 394.64,119.70 398.06,116.70 401.48,108.00 404.90,117.20 408.32,117.20 411.74,100.80 415.16,123.30 418.58,102.50 422.00,123.30 425.42,117.50 428.84,115.30 432.26,115.30 435.68,116.70 439.10,130.30 442.52,139.70 445.94,105.80 449.36,137.00 452.78,133.30 456.20,97.90 459.62,81.70 463.04,89.70 466.46,80.80 469.88,104.10 473.30,99.70 476.72,95.30 480.14,100.00 483.56,102.50 486.98,105.90 490.40,134.20 493.82,102.10 497.24,110.00 500.66,117.50 504.08,69.70 507.50,93.00 510.92,104.00 514.34,75.00 517.76,17.50 521.18,16.00" fill="none" stroke="#808000" stroke-width="0.72" stroke-linejoin="round" opacity="1.0"/>
<circle cx="312.56" cy="112.10" r="1.35" fill="#808000"/>
<circle cx="315.98" cy="128.30" r="1.35" fill="#808000"/>
<circle cx="319.40" cy="110.80" r="1.35" fill="#808000"/>
<circle cx="322.82" cy="140.80" r="1.35" fill="#808000"/>
<circle cx="326.24" cy="115.20" r="1.35" fill="#808000"/>
<circle cx="329.66" cy="115.40" r="1.35" fill="#808000"/>
<circle cx="333.08" cy="135.00" r="1.35" fill="#808000"/>
<circle cx="336.50" cy="130.70" r="1.35" fill="#808000"/>
<circle cx="339.92" cy="128.75" r="1.35" fill="#808000"/>
<circle cx="343.34" cy="113.20" r="1.35" fill="#808000"/>
<circle cx="346.76" cy="125.40" r="1.35" fill="#808000"/>
<circle cx="350.18" cy="120.80" r="1.35" fill="#808000"/>
<circle cx="353.60" cy="145.00" r="1.35" fill="#808000"/>
<circle cx="357.02" cy="107.50" r="1.35" fill="#808000"/>
<circle cx="360.44" cy="88.70" r="1.35" fill="#808000"/>
<circle cx="363.86" cy="100.50" r="1.35" fill="#808000"/>
<circle cx="367.28" cy="140.00" r="1.35" fill="#808000"/>
<circle cx="370.70" cy="148.30" r="1.35" fill="#808000"/>
<circle cx="374.12" cy="127.50" r="1.35" fill="#808000"/>
<circle cx="377.54" cy="118.00" r="1.35" fill="#808000"/>
<circle cx="380.96" cy="128.00" r="1.35" fill="#808000"/>
<circle cx="384.38" cy="108.00" r="1.35" fill="#808000"/>
<circle cx="387.80" cy="129.20" r="1.35" fill="#808000"/>
<circle cx="391.22" cy="145.50" r="1.35" fill="#808000"/>
<circle cx="394.64" cy="119.70" r="1.35" fill="#808000"/>
<circle cx="398.06" cy="116.70" r="1.35" fill="#808000"/>
<circle cx="401.48" cy="108.00" r="1.35" fill="#808000"/>
<circle cx="404.90" cy="117.20" r="1.35" fill="#808000"/>
<circle cx="408.32" cy="117.20" r="1.35" fill="#808000"/>
<circle cx="411.74" cy="100.80" r="1.35" fill="#808000"/>
<circle cx="415.16" cy="123.30" r="1.35" fill="#808000"/>
<circle cx="418.58" cy="102.50" r="1.35" fill="#808000"/>
<circle cx="422.00" cy="123.30" r="1.35" fill="#808000"/>
<circle cx="425.42" cy="117.50" r="1.35" fill="#808000"/>
<circle cx="428.84" cy="115.30" r="1.35" fill="#808000"/>
<circle cx="432.26" cy="115.30" r="1.35" fill="#808000"/>
<circle cx="435.68" cy="116.70" r="1.35" fill="#808000"/>
<circle cx="439.10" cy="130.30" r="1.35" fill="#808000"/>
<circle cx="442.52" cy="139.70" r="1.35" fill="#808000"/>
<circle cx="445.94" cy="105.80" r="1.35" fill="#808000"/>
<circle cx="449.36" cy="137.00" r="1.35" fill="#808000"/>
<circle cx="452.78" cy="133.30" r="1.35" fill="#808000"/>
<circle cx="456.20" cy="97.90" r="1.35" fill="#808000"/>
<circle cx="459.62" cy="81.70" r="1.35" fill="#808000"/>
<circle cx="463.04" cy="89.70" r="1.35" fill="#808000"/>
<circle cx="466.46" cy="80.80" r="1.35" fill="#808000"/>
<circle cx="469.88" cy="104.10" r="1.35" fill="#808000"/>
<circle cx="473.30" cy="99.70" r="1.35" fill="#808000"/>
<circle cx="476.72" cy="95.30" r="1.35" fill="#808000"/>
<circle cx="480.14" cy="100.00" r="1.35" fill="#808000"/>
<circle cx="483.56" cy="102.50" r="1.35" fill="#808000"/>
<circle cx="486.98" cy="105.90" r="1.35" fill="#808000"/>
<circle cx="490.40" cy="134.20" r="1.35" fill="#808000"/>
<circle cx="493.82" cy="102.10" r="1.35" fill="#808000"/>
<circle cx="497.24" cy="110.00" r="1.35" fill="#808000"/>
<circle cx="500.66" cy="117.50" r="1.35" fill="#808000"/>
<circle cx="504.08" cy="69.70" r="1.35" fill="#808000"/>
<circle cx="507.50" cy="93.00" r="1.35" fill="#808000"/>
<circle cx="510.92" cy="104.00" r="1.35" fill="#808000"/>
<circle cx="514.34" cy="75.00" r="1.35" fill="#808000"/>
<circle cx="517.76" cy="17.50" r="1.35" fill="#808000"/>
<circle cx="521.18" cy="16.00" r="1.35" fill="#808000"/>
<polyline points="312.56,132.60 315.98,138.80 319.40,131.55 322.82,144.05 326.24,135.50 329.66,135.10 333.08,137.00 336.50,145.10 339.92,142.60 343.34,133.60 346.76,136.00 350.18,124.90 353.60,146.10 357.02,133.60 360.44,124.00 363.86,137.80 367.28,139.80 370.70,147.80 374.12,137.00 377.54,135.00 380.96,135.30 384.38,125.10 387.80,139.70 391.22,145.00 394.64,126.10 398.06,139.80 401.48,130.00 404.90,132.00 408.32,134.50 411.74,124.00 415.16,141.60 418.58,129.10 422.00,136.60 425.42,133.30 428.84,138.50 432.26,124.30 435.68,137.00 439.10,143.30 442.52,145.30 445.94,128.00 449.36,139.75 452.78,145.05 456.20,131.35 459.62,121.05 463.04,129.55 466.46,123.05 469.88,133.05 473.30,120.75 476.72,117.25 480.14,133.85 483.56,133.35 486.98,130.25 490.40,140.55 493.82,138.55 497.24,136.35 500.66,133.85 504.08,115.25 507.50,119.25 510.92,121.75 514.34,114.25 517.76,15.80 521.18,95.90" fill="none" stroke="#b22222" stroke-width="0.72" stroke-linejoin="round" opacity="1.0"/>
<circle cx="312.56" cy="132.60" r="1.35" fill="#b22222"/>
<circle cx="315.98" cy="138.80" r="1.35" fill="#b22222"/>
<circle cx="319.40" cy="131.55" r="1.35" fill="#b22222"/>
<circle cx="322.82" cy="144.05" r="1.35" fill="#b22222"/>
<circle cx="326.24" cy="135.50" r="1.35" fill="#b22222"/>
<circle cx="329.66" cy="135.10" r="1.35" fill="#b22222"/>
<circle cx="333.08" cy="137.00" r="1.35" fill="#b22222"/>
<circle cx="336.50" cy="145.10" r="1.35" fill="#b22222"/>
<circle cx="339.92" cy="142.60" r="1.35" fill="#b22222"/>
<circle cx="343.34" cy="133.60" r="1.35" fill="#b22222"/>
<circle cx="346.76" cy="136.00" r="1.35" fill="#b22222"/>
<circle cx="350.18" cy="124.90" r="1.35" fill="#b22222"/>
<circle cx="353.60" cy="146.10" r="1.35" fill="#b22222"/>
<circle cx="357.02" cy="133.60" r="1.35" fill="#b22222"/>
<circle cx="360.44" cy="124.00" r="1.35" fill="#b22222"/>
<circle cx="363.86" cy="137.80" r="1.35" fill="#b22222"/>
<circle cx="367.28" cy="139.80" r="1.35" fill="#b22222"/>
<circle cx="370.70" cy="147.80" r="1.35" fill="#b22222"/>
<circle cx="374.12" cy="137.00" r="1.35" fill="#b22222"/>
<circle cx="377.54" cy="135.00" r="1.35" fill="#b22222"/>
<circle cx="380.96" cy="135.30" r="1.35" fill="#b22222"/>
<circle cx="384.38" cy="125.10" r="1.35" fill="#b22222"/>
<circle cx="387.80" cy="139.70" r="1.35" fill="#b22222"/>
<circle cx="391.22" cy="145.00" r="1.35" fill="#b22222"/>
<circle cx="394.64" cy="126.10" r="1.35" fill="#b22222"/>
<circle cx="398.06" cy="139.80" r="1.35" fill="#b22222"/>
<circle cx="401.48" cy="130.00" r="1.35" fill="#b22222"/>
<circle cx="404.90" cy="132.00" r="1.35" fill="#b22222"/>
<circle cx="408.32" cy="134.50" r="1.35" fill="#b22222"/>
<circle cx="411.74" cy="124.00" r="1.35" fill="#b22222"/>
<circle cx="415.16" cy="141.60" r="1.35" fill="#b22222"/>
<circle cx="418.58" cy="129.10" r="1.35" fill="#b22222"/>
<circle cx="422.00" cy="136.60" r="1.35" fill="#b22222"/>
<circle cx="425.42" cy="133.30" r="1.35" fill="#b22222"/>
<circle cx="428.84" cy="138.50" r="1.35" fill="#b22222"/>
<circle cx="432.26" cy="124.30" r="1.35" fill="#b22222"/>
<circle cx="435.68" cy="137.00" r="1.35" fill="#b22222"/>
<circle cx="439.10" cy="143.30" r="1.35" fill="#b22222"/>
<circle cx="442.52" cy="145.30" r="1.35" fill="#b22222"/>
<circle cx="445.94" cy="128.00" r="1.35" fill="#b22222"/>
<circle cx="449.36" cy="139.75" r="1.35" fill="#b22222"/>
<circle cx="452.78" cy="145.05" r="1.35" fill="#b22222"/>
<circle cx="456.20" cy="131.35" r="1.35" fill="#b22222"/>
<circle cx="459.62" cy="121.05" r="1.35" fill="#b22222"/>
<circle cx="463.04" cy="129.55" r="1.35" fill="#b22222"/>
<circle cx="466.46" cy="123.05" r="1.35" fill="#b22222"/>
<circle cx="469.88" cy="133.05" r="1.35" fill="#b22222"/>
<circle cx="473.30" cy="120.75" r="1.35" fill="#b22222"/>
<circle cx="476.72" cy="117.25" r="1.35" fill="#b22222"/>
<circle cx="480.14" cy="133.85" r="1.35" fill="#b22222"/>
<circle cx="483.56" cy="133.35" r="1.35" fill="#b22222"/>
<circle cx="486.98" cy="130.25" r="1.35" fill="#b22222"/>
<circle cx="490.40" cy="140.55" r="1.35" fill="#b22222"/>
<circle cx="493.82" cy="138.55" r="1.35" fill="#b22222"/>
<circle cx="497.24" cy="136.35" r="1.35" fill="#b22222"/>
<circle cx="500.66" cy="133.85" r="1.35" fill="#b22222"/>
<circle cx="504.08" cy="115.25" r="1.35" fill="#b22222"/>
<circle cx="507.50" cy="119.25" r="1.35" fill="#b22222"/>
<circle cx="510.92" cy="121.75" r="1.35" fill="#b22222"/>
<circle cx="514.34" cy="114.25" r="1.35" fill="#b22222"/>
<circle cx="517.76" cy="15.80" r="1.35" fill="#b22222"/>
<circle cx="521.18" cy="95.90" r="1.35" fill="#b22222"/>
<polyline points="41.40,257.00 44.82,259.00 48.25,294.50 51.67,314.00 55.09,275.75 58.52,287.50 61.94,268.25 65.36,257.75 68.78,301.50 72.21,272.75 75.63,293.75 79.05,278.25 82.48,282.00 85.90,298.75 89.32,240.50 92.75,300.75 96.17,302.50 99.59,298.25 103.01,292.00 106.44,278.25 109.86,270.00 113.28,258.75 116.71,269.00 120.13,264.50 123.55,257.50 126.97,308.25 130.40,264.50 133.82,227.00 137.24,293.25 140.67,272.00 144.09,262.50 147.51,286.25 150.94,238.00 154.36,254.50 157.78,259.50 161.21,256.50 164.63,274.00 168.05,276.50 171.47,259.50 174.90,257.75 178.32,294.50 181.74,305.25 185.17,283.75 188.59,295.25 192.01,290.00 195.44,260.00 198.86,267.00 202.28,276.50 205.70,249.00 209.13,265.75 212.55,255.00 215.97,219.50 219.40,262.00 222.82,307.00 226.24,242.00 229.67,272.00 233.09,235.00 236.51,218.75 239.93,226.25 243.36,262.00 246.78,212.00 250.20,183.00" fill="none" stroke="#b22222" stroke-width="0.72" stroke-linejoin="round" opacity="1.0"/>
<circle cx="41.40" cy="257.00" r="1.35" fill="#b22222"/>
<circle cx="44.82" cy="259.00" r="1.35" fill="#b22222"/>
<circle cx="48.25" cy="294.50" r="1.35" fill="#b22222"/>
<circle cx="51.67" cy="314.00" r="1.35" fill="#b22222"/>
<circle cx="55.09" cy="275.75" r="1.35" fill="#b22222"/>
<circle cx="58.52" cy="287.50" r="1.35" fill="#b22222"/>
<circle cx="61.94" cy="268.25" r="1.35" fill="#b22222"/>
<circle cx="65.36" cy="257.75" r="1.35" fill="#b22222"/>
<circle cx="68.78" cy="301.50" r="1.35" fill="#b22222"/>
<circle cx="72.21" cy="272.75" r="1.35" fill="#b22222"/>
<circle cx="75.63" cy="293.75" r="1.35" fill="#b22222"/>
<circle cx="79.05" cy="278.25" r="1.35" fill="#b22222"/>
<circle cx="82.48" cy="282.00" r="1.35" fill="#b22222"/>
<circle cx="85.90" cy="298.75" r="1.35" fill="#b22222"/>
<circle cx="89.32" cy="240.50" r="1.35" fill="#b22222"/>
<circle cx="92.75" cy="300.75" r="1.35" fill="#b22222"/>
<circle cx="96.17" cy="302.50" r="1.35" fill="#b22222"/>
<circle cx="99.59" cy="298.25" r="1.35" fill="#b22222"/>
<circle cx="103.01" cy="292.00" r="1.35" fill="#b22222"/>
<circle cx="106.44" cy="278.25" r="1.35" fill="#b22222"/>
<circle cx="109.86" cy="270.00" r="1.35" fill="#b22222"/>
<circle cx="113.28" cy="258.75" r="1.35" fill="#b22222"/>
<circle cx="116.71" cy="269.00" r="1.35" fill="#b22222"/>
<circle cx="120.13" cy="264.50" r="1.35" fill="#b22222"/>
<circle cx="123.55" cy="257.50" r="1.35" fill="#b22222"/>
<circle cx="126.97" cy="308.25" r="1.35" fill="#b22222"/>
<circle cx="130.40" cy="264.50" r="1.35" fill="#b22222"/>
<circle cx="133.82" cy="227.00" r="1.35" fill="#b22222"/>
<circle cx="137.24" cy="293.25" r="1.35" fill="#b22222"/>
<circle cx="140.67" cy="272.00" r="1.35" fill="#b22222"/>
<circle cx="144.09" cy="262.50" r="1.35" fill="#b22222"/>
<circle cx="147.51" cy="286.25" r="1.35" fill="#b22222"/>
<circle cx="150.94" cy="238.00" r="1.35" fill="#b22222"/>
<circle cx="154.36" cy="254.50" r="1.35" fill="#b22222"/>
<circle cx="157.78" cy="259.50" r="1.35" fill="#b22222"/>
<circle cx="161.21" cy="256.50" r="1.35" fill="#b22222"/>
<circle cx="164.63" cy="274.00" r="1.35" fill="#b22222"/>
<circle cx="168.05" cy="276.50" r="1.35" fill="#b22222"/>
<circle cx="171.47" cy="259.50" r="1.35" fill="#b22222"/>
<circle cx="174.90" cy="257.75" r="1.35" fill="#b22222"/>
<circle cx="178.32" cy="294.50" r="1.35" fill="#b22222"/>
<circle cx="181.74" cy="305.25" r="1.35" fill="#b22222"/>
<circle cx="185.17" cy="283.75" r="1.35" fill="#b22222"/>
<circle cx="188.59" cy="295.25" r="1.35" fill="#b22222"/>
<circle cx="192.01" cy="290.00" r="1.35" fill="#b22222"/>
<circle cx="195.44" cy="260.00" r="1.35" fill="#b22222"/>
<circle cx="198.86" cy="267.00" r="1.35" fill="#b22222"/>
<circle cx="202.28" cy="276.50" r="1.35" fill="#b22222"/>
<circle cx="205.70" cy="249.00" r="1.35" fill="#b22222"/>
<circle cx="209.13" cy="265.75" r="1.35" fill="#b22222"/>
<circle cx="212.55" cy="255.00" r="1.35" fill="#b22222"/>
<circle cx="215.97" cy="219.50" r="1.35" fill="#b22222"/>
<circle cx="219.40" cy="262.00" r="1.35" fill="#b22222"/>
<circle cx="222.82" cy="307.00" r="1.35" fill="#b22222"/>
<circle cx="226.24" cy="242.00" r="1.35" fill="#b22222"/>
<circle cx="229.67" cy="272.00" r="1.35" fill="#b22222"/>
<circle cx="233.09" cy="235.00" r="1.35" fill="#b22222"/>
<circle cx="236.51" cy="218.75" r="1.35" fill="#b22222"/>
<circle cx="239.93" cy="226.25" r="1.35" fill="#b22222"/>
<circle cx="243.36" cy="262.00" r="1.35" fill="#b22222"/>
<circle cx="246.78" cy="212.00" r="1.35" fill="#b22222"/>
<circle cx="250.20" cy="183.00" r="1.35" fill="#b22222"/>
<polyline points="312.56,290.60 315.98,287.60 319.40,300.10 322.82,311.35 326.24,291.35 329.66,298.85 333.08,295.60 336.50,293.85 339.92,302.60 343.34,290.10 346.76,295.60 350.18,284.35 353.60,298.85 357.02,310.10 360.44,260.60 363.86,308.85 367.28,313.10 370.70,307.60 374.12,301.35 377.54,296.85 380.96,298.35 384.38,276.35 387.80,291.35 391.22,295.10 394.64,264.35 398.06,308.85 401.48,287.10 404.90,279.35 408.32,302.10 411.74,267.60 415.16,288.85 418.58,288.85 422.00,257.10 425.42,285.60 428.84,290.10 432.26,288.85 435.68,292.60 439.10,298.85 442.52,296.35 445.94,256.85 449.36,300.60 452.78,307.60 456.20,287.60 459.62,296.35 463.04,281.35 466.46,268.10 469.88,271.35 473.30,267.10 476.72,255.60 480.14,280.10 483.56,280.60 486.98,258.10 490.40,297.60 493.82,307.60 497.24,253.60 500.66,276.60 504.08,248.10 507.50,237.35 510.92,256.10 514.34,262.60 517.76,183.10 521.18,208.10" fill="none" stroke="#000000" stroke-width="0.2" stroke-linejoin="round" opacity="1.0"/>
<circle cx="312.56" cy="290.60" r="1.25" fill="#000000"/>
<circle cx="315.98" cy="287.60" r="1.25" fill="#000000"/>
<circle cx="319.40" cy="300.10" r="1.25" fill="#000000"/>
<circle cx="322.82" cy="311.35" r="1.25" fill="#000000"/>
<circle cx="326.24" cy="291.35" r="1.25" fill="#000000"/>
<circle cx="329.66" cy="298.85" r="1.25" fill="#000000"/>
<circle cx="333.08" cy="295.60" r="1.25" fill="#000000"/>
<circle cx="336.50" cy="293.85" r="1.25" fill="#000000"/>
<circle cx="339.92" cy="302.60" r="1.25" fill="#000000"/>
<circle cx="343.34" cy="290.10" r="1.25" fill="#000000"/>
<circle cx="346.76" cy="295.60" r="1.25" fill="#000000"/>
<circle cx="350.18" cy="284.35" r="1.25" fill="#000000"/>
<circle cx="353.60" cy="298.85" r="1.25" fill="#000000"/>
<circle cx="357.02" cy="310.10" r="1.25" fill="#000000"/>
<circle cx="360.44" cy="260.60" r="1.25" fill="#000000"/>
<circle cx="363.86" cy="308.85" r="1.25" fill="#000000"/>
<circle cx="367.28" cy="313.10" r="1.25" fill="#000000"/>
<circle cx="370.70" cy="307.60" r="1.25" fill="#000000"/>
<circle cx="374.12" cy="301.35" r="1.25" fill="#000000"/>
<circle cx="377.54" cy="296.85" r="1.25" fill="#000000"/>
<circle cx="380.96" cy="298.35" r="1.25" fill="#000000"/>
<circle cx="384.38" cy="276.35" r="1.25" fill="#000000"/>
<circle cx="387.80" cy="291.35" r="1.25" fill="#000000"/>
<circle cx="391.22" cy="295.10" r="1.25" fill="#000000"/>
<circle cx="394.64" cy="264.35" r="1.25" fill="#000000"/>
<circle cx="398.06" cy="308.85" r="1.25" fill="#000000"/>
<circle cx="401.48" cy="287.10" r="1.25" fill="#000000"/>
<circle cx="404.90" cy="279.35" r="1.25" fill="#000000"/>
<circle cx="408.32" cy="302.10" r="1.25" fill="#000000"/>
<circle cx="411.74" cy="267.60" r="1.25" fill="#000000"/>
<circle cx="415.16" cy="288.85" r="1.25" fill="#000000"/>
<circle cx="418.58" cy="288.85" r="1.25" fill="#000000"/>
<circle cx="422.00" cy="257.10" r="1.25" fill="#000000"/>
<circle cx="425.42" cy="285.60" r="1.25" fill="#000000"/>
<circle cx="428.84" cy="290.10" r="1.25" fill="#000000"/>
<circle cx="432.26" cy="288.85" r="1.25" fill="#000000"/>
<circle cx="435.68" cy="292.60" r="1.25" fill="#000000"/>
<circle cx="439.10" cy="298.85" r="1.25" fill="#000000"/>
<circle cx="442.52" cy="296.35" r="1.25" fill="#000000"/>
<circle cx="445.94" cy="256.85" r="1.25" fill="#000000"/>
<circle cx="449.36" cy="300.60" r="1.25" fill="#000000"/>
<circle cx="452.78" cy="307.60" r="1.25" fill="#000000"/>
<circle cx="456.20" cy="287.60" r="1.25" fill="#000000"/>
<circle cx="459.62" cy="296.35" r="1.25" fill="#000000"/>
<circle cx="463.04" cy="281.35" r="1.25" fill="#000000"/>
<circle cx="466.46" cy="268.10" r="1.25" fill="#000000"/>
<circle cx="469.88" cy="271.35" r="1.25" fill="#000000"/>
<circle cx="473.30" cy="267.10" r="1.25" fill="#000000"/>
<circle cx="476.72" cy="255.60" r="1.25" fill="#000000"/>
<circle cx="480.14" cy="280.10" r="1.25" fill="#000000"/>
<circle cx="483.56" cy="280.60" r="1.25" fill="#000000"/>
<circle cx="486.98" cy="258.10" r="1.25" fill="#000000"/>
<circle cx="490.40" cy="297.60" r="1.25" fill="#000000"/>
<circle cx="493.82" cy="307.60" r="1.25" fill="#000000"/>
<circle cx="497.24" cy="253.60" r="1.25" fill="#000000"/>
<circle cx="500.66" cy="276.60" r="1.25" fill="#000000"/>
<circle cx="504.08" cy="248.10" r="1.25" fill="#000000"/>
<circle cx="507.50" cy="237.35" r="1.25" fill="#000000"/>
<circle cx="510.92" cy="256.10" r="1.25" fill="#000000"/>
<circle cx="514.34" cy="262.60" r="1.25" fill="#000000"/>
<circle cx="517.76" cy="183.10" r="1.25" fill="#000000"/>
<circle cx="521.18" cy="208.10" r="1.25" fill="#000000"/>
<polyline points="312.56,292.43 315.98,289.30 319.40,301.80 322.82,312.80 326.24,292.80 329.66,300.05 333.08,296.80 336.50,295.93 339.92,303.80 343.34,291.30 346.76,297.18 350.18,285.93 353.60,299.93 357.02,311.80 360.44,261.55 363.86,310.05 367.28,314.05 370.70,309.05 374.12,302.80 377.54,298.93 380.96,299.68 384.38,278.43 387.80,293.18 391.22,296.93 394.64,266.43 398.06,310.30 401.48,288.55 404.90,280.93 408.32,303.80 411.74,269.68 415.16,290.30 418.58,290.30 422.00,259.43 425.42,287.05 428.84,292.18 432.26,290.30 435.68,294.68 439.10,300.30 442.52,297.18 445.94,259.30 449.36,302.43 452.78,309.43 456.20,289.05 459.62,298.43 463.04,284.05 466.46,269.93 469.88,273.18 473.30,269.05 476.72,257.80 480.14,282.55 483.56,282.43 486.98,260.30 490.40,299.30 493.82,309.68 497.24,254.80 500.66,279.43 504.08,249.55 507.50,239.42 510.92,258.30 514.34,265.05 517.76,184.55 521.18,209.55" fill="none" stroke="#808000" stroke-width="0.4" stroke-linejoin="round" opacity="1.0"/>
<circle cx="312.56" cy="292.43" r="1.35" fill="#808000"/>
<circle cx="315.98" cy="289.30" r="1.35" fill="#808000"/>
<circle cx="319.40" cy="301.80" r="1.35" fill="#808000"/>
<circle cx="322.82" cy="312.80" r="1.35" fill="#808000"/>
<circle cx="326.24" cy="292.80" r="1.35" fill="#808000"/>
<circle cx="329.66" cy="300.05" r="1.35" fill="#808000"/>
<circle cx="333.08" cy="296.80" r="1.35" fill="#808000"/>
<circle cx="336.50" cy="295.93" r="1.35" fill="#808000"/>
<circle cx="339.92" cy="303.80" r="1.35" fill="#808000"/>
<circle cx="343.34" cy="291.30" r="1.35" fill="#808000"/>
<circle cx="346.76" cy="297.18" r="1.35" fill="#808000"/>
<circle cx="350.18" cy="285.93" r="1.35" fill="#808000"/>
<circle cx="353.60" cy="299.93" r="1.35" fill="#808000"/>
<circle cx="357.02" cy="311.80" r="1.35" fill="#808000"/>
<circle cx="360.44" cy="261.55" r="1.35" fill="#808000"/>
<circle cx="363.86" cy="310.05" r="1.35" fill="#808000"/>
<circle cx="367.28" cy="314.05" r="1.35" fill="#808000"/>
<circle cx="370.70" cy="309.05" r="1.35" fill="#808000"/>
<circle cx="374.12" cy="302.80" r="1.35" fill="#808000"/>
<circle cx="377.54" cy="298.93" r="1.35" fill="#808000"/>
<circle cx="380.96" cy="299.68" r="1.35" fill="#808000"/>
<circle cx="384.38" cy="278.43" r="1.35" fill="#808000"/>
<circle cx="387.80" cy="293.18" r="1.35" fill="#808000"/>
<circle cx="391.22" cy="296.93" r="1.35" fill="#808000"/>
<circle cx="394.64" cy="266.43" r="1.35" fill="#808000"/>
<circle cx="398.06" cy="310.30" r="1.35" fill="#808000"/>
<circle cx="401.48" cy="288.55" r="1.35" fill="#808000"/>
<circle cx="404.90" cy="280.93" r="1.35" fill="#808000"/>
<circle cx="408.32" cy="303.80" r="1.35" fill="#808000"/>
<circle cx="411.74" cy="269.68" r="1.35" fill="#808000"/>
<circle cx="415.16" cy="290.30" r="1.35" fill="#808000"/>
<circle cx="418.58" cy="290.30" r="1.35" fill="#808000"/>
<circle cx="422.00" cy="259.43" r="1.35" fill="#808000"/>
<circle cx="425.42" cy="287.05" r="1.35" fill="#808000"/>
<circle cx="428.84" cy="292.18" r="1.35" fill="#808000"/>
<circle cx="432.26" cy="290.30" r="1.35" fill="#808000"/>
<circle cx="435.68" cy="294.68" r="1.35" fill="#808000"/>
<circle cx="439.10" cy="300.30" r="1.35" fill="#808000"/>
<circle cx="442.52" cy="297.18" r="1.35" fill="#808000"/>
<circle cx="445.94" cy="259.30" r="1.35" fill="#808000"/>
<circle cx="449.36" cy="302.43" r="1.35" fill="#808000"/>
<circle cx="452.78" cy="309.43" r="1.35" fill="#808000"/>
<circle cx="456.20" cy="289.05" r="1.35" fill="#808000"/>
<circle cx="459.62" cy="298.43" r="1.35" fill="#808000"/>
<circle cx="463.04" cy="284.05" r="1.35" fill="#808000"/>
<circle cx="466.46" cy="269.93" r="1.35" fill="#808000"/>
<circle cx="469.88" cy="273.18" r="1.35" fill="#808000"/>
<circle cx="473.30" cy="269.05" r="1.35" fill="#808000"/>
<circle cx="476.72" cy="257.80" r="1.35" fill="#808000"/>
<circle cx="480.14" cy="282.55" r="1.35" fill="#808000"/>
<circle cx="483.56" cy="282.43" r="1.35" fill="#808000"/>
<circle cx="486.98" cy="260.30" r="1.35" fill="#808000"/>
<circle cx="490.40" cy="299.30" r="1.35" fill="#808000"/>
<circle cx="493.82" cy="309.68" r="1.35" fill="#808000"/>
<circle cx="497.24" cy="254.80" r="1.35" fill="#808000"/>
<circle cx="500.66" cy="279.43" r="1.35" fill="#808000"/>
<circle cx="504.08" cy="249.55" r="1.35" fill="#808000"/>
<circle cx="507.50" cy="239.42" r="1.35" fill="#808000"/>
<circle cx="510.92" cy="258.30" r="1.35" fill="#808000"/>
<circle cx="514.34" cy="265.05" r="1.35" fill="#808000"/>
<circle cx="517.76" cy="184.55" r="1.35" fill="#808000"/>
<circle cx="521.18" cy="209.55" r="1.35" fill="#808000"/>
<polyline points="312.56,293.65 315.98,290.40 319.40,302.90 322.82,313.65 326.24,293.65 329.66,300.65 333.08,297.40 336.50,297.40 339.92,304.40 343.34,291.90 346.76,298.15 350.18,286.90 353.60,300.40 357.02,312.90 360.44,261.90 363.86,310.65 367.28,314.40 370.70,309.90 374.12,303.65 377.54,300.40 380.96,300.40 384.38,279.90 387.80,294.40 391.22,298.15 394.64,267.90 398.06,311.15 401.48,289.40 404.90,281.90 408.32,304.90 411.74,271.15 415.16,291.15 418.58,291.15 422.00,261.15 425.42,287.90 428.84,293.65 432.26,291.15 435.68,296.15 439.10,301.15 442.52,297.40 445.94,261.15 449.36,303.65 452.78,310.65 456.20,289.90 459.62,299.90 463.04,286.15 466.46,271.15 469.88,274.40 473.30,270.40 476.72,259.40 480.14,284.40 483.56,283.65 486.98,261.90 490.40,300.40 493.82,311.15 497.24,255.40 500.66,281.65 504.08,250.40 507.50,240.90 510.92,259.90 514.34,266.90 517.76,185.40 521.18,210.40" fill="none" stroke="#b22222" stroke-width="0.7" stroke-linejoin="round" opacity="1.0"/>
<circle cx="312.56" cy="293.65" r="1.35" fill="#b22222"/>
<circle cx="315.98" cy="290.40" r="1.35" fill="#b22222"/>
<circle cx="319.40" cy="302.90" r="1.35" fill="#b22222"/>
<circle cx="322.82" cy="313.65" r="1.35" fill="#b22222"/>
<circle cx="326.24" cy="293.65" r="1.35" fill="#b22222"/>
<circle cx="329.66" cy="300.65" r="1.35" fill="#b22222"/>
<circle cx="333.08" cy="297.40" r="1.35" fill="#b22222"/>
<circle cx="336.50" cy="297.40" r="1.35" fill="#b22222"/>
<circle cx="339.92" cy="304.40" r="1.35" fill="#b22222"/>
<circle cx="343.34" cy="291.90" r="1.35" fill="#b22222"/>
<circle cx="346.76" cy="298.15" r="1.35" fill="#b22222"/>
<circle cx="350.18" cy="286.90" r="1.35" fill="#b22222"/>
<circle cx="353.60" cy="300.40" r="1.35" fill="#b22222"/>
<circle cx="357.02" cy="312.90" r="1.35" fill="#b22222"/>
<circle cx="360.44" cy="261.90" r="1.35" fill="#b22222"/>
<circle cx="363.86" cy="310.65" r="1.35" fill="#b22222"/>
<circle cx="367.28" cy="314.40" r="1.35" fill="#b22222"/>
<circle cx="370.70" cy="309.90" r="1.35" fill="#b22222"/>
<circle cx="374.12" cy="303.65" r="1.35" fill="#b22222"/>
<circle cx="377.54" cy="300.40" r="1.35" fill="#b22222"/>
<circle cx="380.96" cy="300.40" r="1.35" fill="#b22222"/>
<circle cx="384.38" cy="279.90" r="1.35" fill="#b22222"/>
<circle cx="387.80" cy="294.40" r="1.35" fill="#b22222"/>
<circle cx="391.22" cy="298.15" r="1.35" fill="#b22222"/>
<circle cx="394.64" cy="267.90" r="1.35" fill="#b22222"/>
<circle cx="398.06" cy="311.15" r="1.35" fill="#b22222"/>
<circle cx="401.48" cy="289.40" r="1.35" fill="#b22222"/>
<circle cx="404.90" cy="281.90" r="1.35" fill="#b22222"/>
<circle cx="408.32" cy="304.90" r="1.35" fill="#b22222"/>
<circle cx="411.74" cy="271.15" r="1.35" fill="#b22222"/>
<circle cx="415.16" cy="291.15" r="1.35" fill="#b22222"/>
<circle cx="418.58" cy="291.15" r="1.35" fill="#b22222"/>
<circle cx="422.00" cy="261.15" r="1.35" fill="#b22222"/>
<circle cx="425.42" cy="287.90" r="1.35" fill="#b22222"/>
<circle cx="428.84" cy="293.65" r="1.35" fill="#b22222"/>
<circle cx="432.26" cy="291.15" r="1.35" fill="#b22222"/>
<circle cx="435.68" cy="296.15" r="1.35" fill="#b22222"/>
<circle cx="439.10" cy="301.15" r="1.35" fill="#b22222"/>
<circle cx="442.52" cy="297.40" r="1.35" fill="#b22222"/>
<circle cx="445.94" cy="261.15" r="1.35" fill="#b22222"/>
<circle cx="449.36" cy="303.65" r="1.35" fill="#b22222"/>
<circle cx="452.78" cy="310.65" r="1.35" fill="#b22222"/>
<circle cx="456.20" cy="289.90" r="1.35" fill="#b22222"/>
<circle cx="459.62" cy="299.90" r="1.35" fill="#b22222"/>
<circle cx="463.04" cy="286.15" r="1.35" fill="#b22222"/>
<circle cx="466.46" cy="271.15" r="1.35" fill="#b22222"/>
<circle cx="469.88" cy="274.40" r="1.35" fill="#b22222"/>
<circle cx="473.30" cy="270.40" r="1.35" fill="#b22222"/>
<circle cx="476.72" cy="259.40" r="1.35" fill="#b22222"/>
<circle cx="480.14" cy="284.40" r="1.35" fill="#b22222"/>
<circle cx="483.56" cy="283.65" r="1.35" fill="#b22222"/>
<circle cx="486.98" cy="261.90" r="1.35" fill="#b22222"/>
<circle cx="490.40" cy="300.40" r="1.35" fill="#b22222"/>
<circle cx="493.82" cy="311.15" r="1.35" fill="#b22222"/>
<circle cx="497.24" cy="255.40" r="1.35" fill="#b22222"/>
<circle cx="500.66" cy="281.65" r="1.35" fill="#b22222"/>
<circle cx="504.08" cy="250.40" r="1.35" fill="#b22222"/>
<circle cx="507.50" cy="240.90" r="1.35" fill="#b22222"/>
<circle cx="510.92" cy="259.90" r="1.35" fill="#b22222"/>
<circle cx="514.34" cy="266.90" r="1.35" fill="#b22222"/>
<circle cx="517.76" cy="185.40" r="1.35" fill="#b22222"/>
<circle cx="521.18" cy="210.40" r="1.35" fill="#b22222"/>
<rect x="31.0" y="9.5" width="230.00" height="145.00" fill="none" stroke="#555" stroke-width="0.8"/>
<rect x="301.5" y="9.5" width="230.50" height="145.00" fill="none" stroke="#555" stroke-width="0.8"/>
<rect x="31.0" y="176.5" width="230.00" height="144.50" fill="none" stroke="#555" stroke-width="0.8"/>
<rect x="301.6" y="176.5" width="230.20" height="144.50" fill="none" stroke="#555" stroke-width="0.8"/>
</g></svg>
</body></html>
